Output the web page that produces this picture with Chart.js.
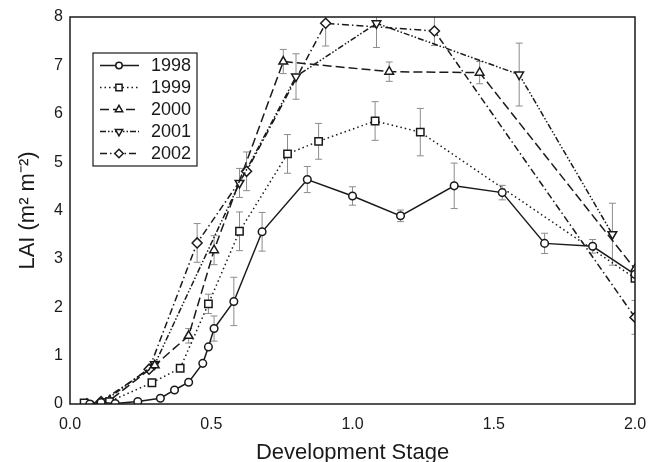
<!DOCTYPE html>
<html lang="en">
<head>
<meta charset="UTF-8">
<title>LAI vs Development Stage</title>
<script src="https://cdn.jsdelivr.net/npm/chart.js@4.4.1/dist/chart.umd.min.js"></script>
<style>
  html, body { margin: 0; padding: 0; background: #fff; }
  #wrap { width: 649px; height: 462px; }
</style>
</head>
<body>
<div id="wrap"><canvas id="laiChart"></canvas></div>
<script>
// --- data ---
const years = ['1998', '1999', '2000', '2001', '2002'];

const stage1998 = [0.07, 0.11, 0.16, 0.24, 0.32, 0.37, 0.42, 0.47, 0.49, 0.51, 0.58, 0.68, 0.84, 1.00, 1.17, 1.36, 1.53, 1.68, 1.85, 2.00];
const lai1998   = [0.00, 0.03, 0.01, 0.05, 0.12, 0.29, 0.45, 0.84, 1.18, 1.56, 2.12, 3.56, 4.64, 4.30, 3.89, 4.51, 4.37, 3.32, 3.26, 2.68];
const err1998   = [0, 0, 0, 0, 0, 0, 0, 0, 0, 0.26, 0.50, 0.40, 0.27, 0.19, 0.12, 0.47, 0.15, 0.21, 0.14, 0];

const stage1999 = [0.05, 0.14, 0.29, 0.39, 0.49, 0.60, 0.77, 0.88, 1.08, 1.24, 2.00];
const lai1999   = [0.02, 0.05, 0.44, 0.74, 2.07, 3.57, 5.17, 5.43, 5.85, 5.62, 2.60];
const err1999   = [0, 0, 0, 0, 0.20, 0.40, 0.40, 0.37, 0.40, 0.49, 0];

const stage2000 = [0.06, 0.14, 0.30, 0.42, 0.51, 0.755, 1.13, 1.45, 2.00];
const lai2000   = [0.00, 0.07, 0.80, 1.41, 3.18, 7.08, 6.87, 6.85, 2.79];
const err2000   = [0, 0, 0, 0.15, 0.30, 0.25, 0.20, 0.23, 0];

const stage2001 = [0.065, 0.12, 0.30, 0.60, 0.80, 1.085, 1.59, 1.92];
const lai2001   = [0.00, 0.05, 0.82, 4.57, 6.77, 7.87, 6.81, 3.51];
const err2001   = [0, 0, 0, 0.30, 0.47, 0.50, 0.65, 0.64];

const stage2002 = [0.06, 0.11, 0.28, 0.45, 0.625, 0.905, 1.29, 2.00];
const lai2002   = [0.00, 0.05, 0.72, 3.33, 4.81, 7.87, 7.71, 1.79];
const err2002   = [0, 0, 0, 0.40, 0.40, 0.47, 0.30, 0.35];

const xTicks = [0, 0.5, 1.0, 1.5, 2.0];
const yTicks = [0, 1, 2, 3, 4, 5, 6, 7, 8];

const INK = '#1a1a1a';
const FONT = "'Liberation Sans', Arial, sans-serif";

function pts(xs, ys) {
    return xs.map((x, i) => ({ x: x, y: ys[i] }));
}

function series(label, xs, ys, errs, style) {
    return Object.assign({
        label: label,
        data: pts(xs, ys),
        errors: errs,
        borderColor: INK,
        borderWidth: 1.5,
        pointBackgroundColor: '#fff',
        pointBorderColor: INK,
        pointBorderWidth: 1.5,
        tension: 0,
        fill: false
    }, style);
}

const datasets = [
    series(years[0], stage1998, lai1998, err1998, { borderDash: [], pointStyle: 'circle', pointRadius: 3.8 }),
    series(years[1], stage1999, lai1999, err1999, { borderDash: [1.5, 3], pointStyle: 'rect', pointRadius: 5.2 }),
    series(years[2], stage2000, lai2000, err2000, { borderDash: [9, 4], pointStyle: 'triangle', pointRadius: 5 }),
    series(years[3], stage2001, lai2001, err2001, { borderDash: [6, 2, 1.5, 2, 1.5, 2], pointStyle: 'triangle', pointRotation: 180, pointRadius: 5 }),
    series(years[4], stage2002, lai2002, err2002, { borderDash: [7, 3, 1.5, 3], pointStyle: 'rectRot', pointRadius: 5 })
];

// error bars, drawn under the lines
const errorBars = {
    id: 'errorBars',
    beforeDatasetsDraw(chart) {
        const { ctx, chartArea, scales: { x, y } } = chart;
        ctx.save();
        ctx.beginPath();
        ctx.rect(chartArea.left, chartArea.top, chartArea.right - chartArea.left, chartArea.bottom - chartArea.top);
        ctx.clip();
        ctx.strokeStyle = '#8c8c8c';
        ctx.lineWidth = 1;
        chart.data.datasets.forEach(ds => {
            ds.data.forEach((p, i) => {
                const e = ds.errors[i];
                if (!e) return;
                const px = x.getPixelForValue(p.x);
                const top = y.getPixelForValue(p.y + e);
                const bot = y.getPixelForValue(p.y - e);
                ctx.beginPath();
                ctx.moveTo(px, top); ctx.lineTo(px, bot);
                ctx.moveTo(px - 3.5, top); ctx.lineTo(px + 3.5, top);
                ctx.moveTo(px - 3.5, bot); ctx.lineTo(px + 3.5, bot);
                ctx.stroke();
            });
        });
        ctx.restore();
    }
};

// box round the plot and the legend inside it
const frameAndLegend = {
    id: 'frameAndLegend',
    afterDraw(chart) {
        const { ctx, chartArea: ca } = chart;
        ctx.save();
        ctx.strokeStyle = INK;
        ctx.lineWidth = 1.5;
        ctx.setLineDash([]);
        ctx.strokeRect(ca.left, ca.top, ca.right - ca.left, ca.bottom - ca.top);

        const bx = ca.left + 23, by = ca.top + 36, bw = 104, bh = 113;
        ctx.fillStyle = '#fff';
        ctx.fillRect(bx, by, bw, bh);
        ctx.lineWidth = 1.2;
        ctx.strokeRect(bx, by, bw, bh);

        chart.data.datasets.forEach((ds, i) => {
            const ry = by + 12.5 + i * 22;
            ctx.strokeStyle = INK;
            ctx.lineWidth = 1.5;
            ctx.setLineDash(ds.borderDash);
            ctx.beginPath();
            ctx.moveTo(bx + 7, ry);
            ctx.lineTo(bx + 46, ry);
            ctx.stroke();
            ctx.setLineDash([]);
            ctx.fillStyle = '#fff';
            ctx.lineWidth = 1.5;
            Chart.helpers.drawPoint(ctx, {
                pointStyle: ds.pointStyle,
                radius: ds.pointRadius * 0.85,
                rotation: ds.pointRotation || 0,
                borderWidth: 1.5
            }, bx + 26, ry);
            ctx.fillStyle = INK;
            ctx.font = '18px ' + FONT;
            ctx.textAlign = 'left';
            ctx.textBaseline = 'middle';
            ctx.fillText(ds.label, bx + 58, ry + 1);
        });
        ctx.restore();
    }
};

new Chart(document.getElementById('laiChart'), {
    type: 'line',
    data: { datasets: datasets },
    options: {
        responsive: true,
        maintainAspectRatio: false,
        animation: false,
        layout: { padding: { top: 17, right: 14, left: 0, bottom: 0 } },
        plugins: { legend: { display: false }, tooltip: { enabled: false } },
        scales: {
            x: {
                type: 'linear',
                min: 0, max: 2,
                afterBuildTicks: s => { s.ticks = xTicks.map(v => ({ value: v })); },
                afterFit: s => { s.height = 58; s.paddingRight = 0; s.paddingLeft = 0; },
                grid: { display: false, drawTicks: false },
                border: { display: false },
                ticks: {
                    color: INK, padding: 11,
                    font: { family: FONT, size: 16 },
                    callback: v => Number(v).toFixed(1)
                },
                title: {
                    display: true, text: 'Development Stage', color: INK,
                    font: { family: FONT, size: 22 },
                    padding: { top: 2, bottom: -4 }
                }
            },
            y: {
                min: 0, max: 8,
                afterBuildTicks: s => { s.ticks = yTicks.map(v => ({ value: v })); },
                afterFit: s => { s.width = 70; s.paddingTop = 0; s.paddingBottom = 0; },
                grid: { display: false, drawTicks: false },
                border: { display: false },
                ticks: {
                    color: INK, padding: 7,
                    font: { family: FONT, size: 16 }
                },
                title: {
                    display: true, text: 'LAI (m² m⁻²)', color: INK,
                    font: { family: FONT, size: 22 },
                    padding: { top: 15, bottom: 0 }
                }
            }
        }
    },
    plugins: [errorBars, frameAndLegend]
});
</script>
</body>
</html>
